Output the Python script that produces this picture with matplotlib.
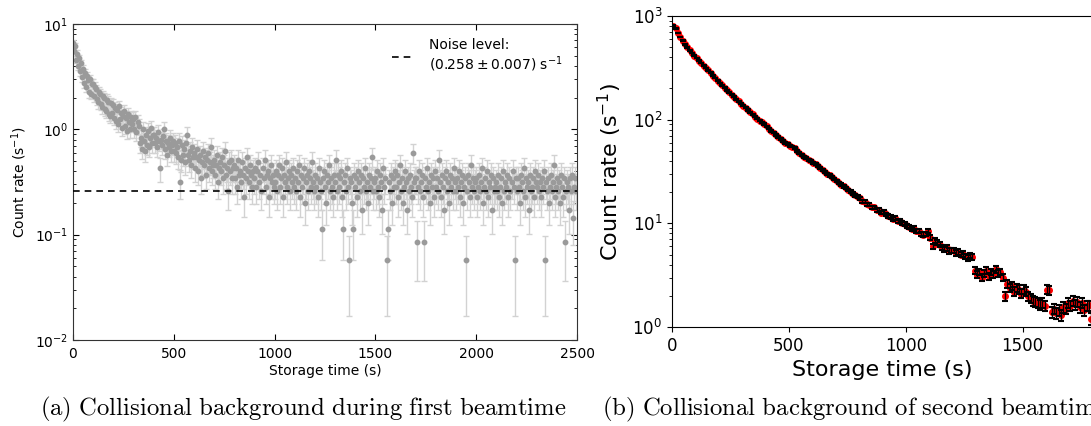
"""
collisional background count rates for the two beamtimes
(a) first beamtime with fitted noise level, (b) second beamtime
"""

import matplotlib.pyplot as plt
import numpy as np

# first beamtime: counts per 5 s bin, one count corresponds to 1/35 s^-1
binWidthA = 5.0
countScaleA = 35.0
countsA = [
    232, 196, 214, 161, 183, 141, 166, 124, 148, 109, 132, 97, 121, 88, 112, 103, 79, 104, 76, 95,
    95, 72, 89, 84, 68, 63, 79, 76, 61, 57, 72, 69, 54, 52, 67, 64, 49, 47, 62, 50,
    60, 45, 56, 42, 53, 39, 58, 44, 50, 36, 47, 52, 38, 45, 34, 49, 41, 35, 46, 39,
    44, 35, 46, 33, 41, 38, 26, 29, 23, 35, 27, 22, 31, 25, 34, 24, 29, 36, 26, 31,
    31, 26, 29, 24, 33, 27, 15, 28, 25, 30, 35, 23, 27, 20, 26, 24, 29, 22, 25, 27,
    22, 26, 21, 24, 19, 27, 11, 18, 25, 20, 23, 17, 26, 31, 20, 18, 22, 16, 24, 19,
    21, 15, 19, 23, 14, 18, 20, 12, 17, 22, 16, 19, 13, 18, 21, 15, 17, 24, 14, 16,
    18, 13, 16, 20, 11, 15, 17, 14, 19, 12, 16, 22, 13, 15, 9, 17, 14, 18, 12, 15,
    16, 12, 15, 10, 18, 13, 14, 11, 17, 13, 8, 15, 12, 19, 14, 11, 16, 13, 10, 14,
    12, 15, 10, 14, 17, 11, 13, 9, 15, 12, 18, 10, 13, 14, 8, 12, 16, 11, 13, 10,
    11, 14, 9, 13, 16, 10, 12, 15, 8, 13, 11, 17, 10, 12, 14, 9, 13, 11, 15, 10,
    12, 9, 14, 11, 16, 8, 13, 10, 12, 15, 7, 11, 13, 9, 14, 12, 10, 17, 11, 9,
    13, 10, 12, 8, 15, 11, 9, 4, 12, 14, 10, 7, 13, 11, 16, 9, 12, 10, 8, 13,
    11, 18, 9, 13, 10, 12, 14, 8, 4, 11, 13, 9, 15, 10, 2, 12, 11, 7, 4, 13,
    10, 12, 8, 14, 11, 9, 13, 6, 12, 10, 15, 9, 11, 7, 13, 10, 12, 19, 9, 11,
    12, 9, 14, 10, 8, 13, 11, 6, 15, 10, 12, 2, 4, 11, 9, 13, 7, 12, 10, 14,
    10, 13, 8, 11, 16, 9, 12, 7, 10, 14, 11, 6, 12, 9, 13, 10, 8, 21, 11, 12,
    12, 3, 10, 14, 9, 11, 13, 8, 3, 12, 10, 15, 9, 11, 7, 13, 10, 12, 8, 14,
    10, 12, 9, 18, 11, 8, 13, 10, 6, 12, 14, 9, 11, 7, 13, 10, 12, 9, 15, 11,
    9, 12, 10, 14, 8, 11, 13, 7, 10, 12, 2, 9, 13, 11, 8, 16, 10, 12, 9, 11,
    12, 8, 10, 13, 9, 11, 15, 7, 10, 12, 9, 14, 8, 11, 10, 13, 6, 12, 9, 10,
    11, 9, 13, 8, 10, 12, 7, 14, 9, 11, 10, 13, 8, 12, 9, 11, 14, 10, 2, 12,
    9, 12, 10, 7, 13, 11, 9, 15, 8, 12, 10, 11, 6, 13, 9, 10, 12, 8, 14, 11,
    10, 13, 9, 11, 8, 12, 10, 14, 2, 11, 9, 12, 7, 10, 13, 9, 11, 16, 8, 10,
    12, 9, 11, 7, 13, 10, 8, 12, 3, 9, 11, 10, 6, 12, 9, 13, 5, 10, 12, 9,
]
noiseLevel = 0.258
noiseError = 0.007

# second beamtime: count rate (s^-1) per 10 s bin, starting at 5 s
binWidthB = 10.0
rateScaleB = 0.02
rateB = [
    810, 760, 685, 628, 578, 533, 498, 467, 438, 414,
    394, 372, 353, 333, 316, 299, 283, 266, 252, 238,
    226, 214, 203, 192, 183, 174, 166, 158, 150, 143,
    136, 130, 124, 118, 113, 107, 102, 98, 94, 91,
    86, 82, 78, 75, 71, 68, 65, 62, 60, 58,
    56, 55, 53, 50, 48, 46, 44, 43, 41, 40,
    38, 37, 35.5, 34, 32.5, 31.5, 30, 29, 28, 26.8,
    25.7, 24.6, 23.6, 22.8, 22, 21, 20.2, 19.4, 18.7, 18,
    17.5, 16.4, 16.2, 15.2, 15.1, 14.3, 14.3, 13.5, 13.4, 12.7,
    12.8, 12.2, 11.7, 11.6, 11.1, 11.2, 10.6, 10.6, 10.0, 9.9,
    9.4, 9.3, 8.8, 8.9, 8.4, 8.5, 7.9, 7.8, 7.9, 8.4,
    7.3, 6.0, 6.8, 6.5, 6.2, 5.9, 5.6, 5.8, 5.4, 5.5,
    5.5, 5.2, 5.3, 5.0, 5.1, 4.8, 4.6, 4.9, 4.7, 3.5,
    3.2, 3.4, 3.0, 3.3, 3.5, 3.1, 3.4, 3.2, 3.6, 3.3,
    3.4, 3.0, 2.0, 2.6, 2.4, 2.5, 2.2, 2.4, 2.3, 2.1,
    2.3, 2.2, 2.0, 1.9, 1.8, 1.75, 1.7, 1.65, 1.7, 1.6,
    2.3, 2.25, 1.4, 1.5, 1.35, 1.45, 1.3, 1.55, 1.5, 1.7,
    1.6, 1.8, 1.65, 1.75, 1.55, 1.7, 1.45, 1.6, 1.62, 1.2,
]

captionA = r'$\mathrm{(a)\ Collisional\ background\ during\ first\ beamtime}$'
captionB = r'$\mathrm{(b)\ Collisional\ background\ of\ second\ beamtime}$'

# rates and poisson errors
countsA = np.array(countsA, dtype=float)
timeA = np.arange(len(countsA)) * binWidthA
rateA = countsA / countScaleA
errA = np.sqrt(countsA) / countScaleA

rateB = np.array(rateB)
timeB = np.arange(len(rateB)) * binWidthB + binWidthB / 2
errB = np.sqrt(rateB * rateScaleB)

fig = plt.figure(figsize=(10.91, 4.26), dpi=100)

''' panel (a): old style plot '''
ax1 = fig.add_axes([0.0669, 0.2019, 0.462, 0.7418])
ax1.errorbar(timeA, rateA, yerr=errA, fmt='o', color='#9a9a9a', mec='#9a9a9a',
             ms=3.2, ecolor='#d2d2d2', elinewidth=1, capsize=2.5, zorder=2)
noiseLine, = ax1.plot([0, 2500], [noiseLevel, noiseLevel], color='k', ls='--',
                      dashes=(4, 3), lw=1.2, zorder=4)
ax1.set_yscale('log')
ax1.set_xlim(0, 2500)
ax1.set_ylim(1e-2, 1e1)
ax1.set_xticks(np.arange(0, 2501, 500))
ax1.tick_params(which='both', direction='in', top=True, right=True, labelsize=10)
ax1.tick_params(which='major', length=4)
ax1.tick_params(which='minor', length=2)
ax1.tick_params(axis='x', pad=5)
for s in ax1.spines.values():
    s.set_color('#333333')
ax1.set_xlabel('Storage time (s)', fontsize=10, labelpad=2)
ax1.set_ylabel('Count rate (s$^{-1}$)', fontsize=10, labelpad=4)
ax1.legend([noiseLine], ['Noise level:\n$(0.258\\pm0.007)$ s$^{-1}$'], loc='upper right',
           frameon=False, fontsize=10, handlelength=1.4, handletextpad=1.3,
           borderaxespad=0.6)

''' panel (b): red points with black error bars '''
ax2 = fig.add_axes([0.616, 0.2324, 0.3855, 0.730])
ax2.plot(timeB, rateB, 'o', color='red', ms=4, zorder=2)
ax2.errorbar(timeB, rateB, yerr=errB, fmt='none', ecolor='k', elinewidth=1,
             capsize=2.5, capthick=1.5, zorder=3)
ax2.set_yscale('log')
ax2.set_xlim(0, 1800)
ax2.set_ylim(1, 1000)
ax2.set_xticks([0, 500, 1000, 1500])
ax2.tick_params(labelsize=12)
ax2.set_xlabel('Storage time (s)', fontsize=16)
ax2.set_ylabel('Count rate (s$^{-1}$)', fontsize=16, labelpad=6)

# captions under the panels
fig.text(0.037, 0.038, captionA, fontsize=17.8, math_fontfamily='cm', va='center')
fig.text(0.5518, 0.038, captionB, fontsize=17.8, math_fontfamily='cm', va='center')

plt.savefig('out.png', dpi=100)
plt.close()
